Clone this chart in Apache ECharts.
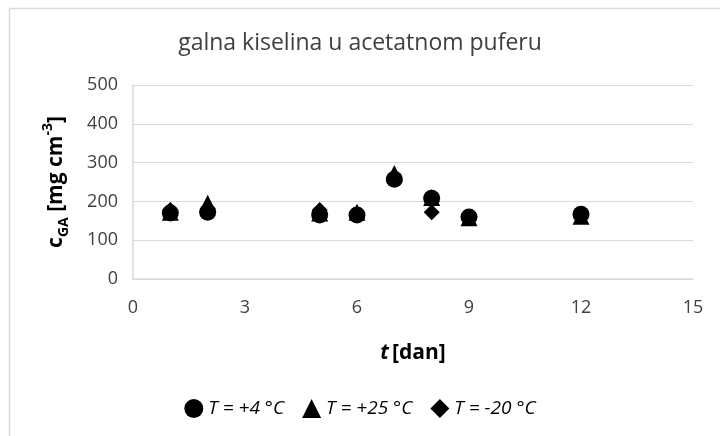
<!DOCTYPE html>
<html><head><meta charset="utf-8">
<script src="https://cdn.jsdelivr.net/npm/echarts@6/dist/echarts.min.js"></script>
<style>html,body{margin:0;padding:0;background:#fff}#c{width:720px;height:436px}</style>
</head><body><div id="c"></div>
<script>
const title = 'galna kiselina u acetatnom puferu';
const days = [1, 2, 5, 6, 7, 8, 9, 12];
const seriesNames = ['T = +4 °C', 'T = +25 °C', 'T = -20 °C'];
const cT4 = [170, 172, 165, 165, 257, 208, 160, 167];
const cT25 = [172, 195, 170, 172, 272, 210, 158, 162];
const cTm20 = [178, 182, 178, 168, 262, 172, 160, 165];
const xTicks = [0, 3, 6, 9, 12, 15];
const yTicks = [0, 100, 200, 300, 400, 500];

const FONT = '"Open Sans", "Noto Sans", sans-serif';
const chart = echarts.init(document.getElementById('c'));
const pairs = v => days.map((d, i) => [d, v[i]]);
const symbols = ['circle', 'triangle', 'diamond'];
const sizes = [17, 17, 16];
const zs = [3, 2, 4];
const vals = [cT4, cT25, cTm20];

chart.setOption({
  animation: false,
  textStyle: { fontFamily: FONT },
  title: { text: title, left: 'center', top: 27,
    textStyle: { fontFamily: FONT, fontSize: 23, fontWeight: 'normal', color: '#404040' } },
  graphic: [
    { type: 'line', shape: { x1: 9.5, y1: 8.5, x2: 720, y2: 8.5 }, style: { stroke: '#d9d9d9', lineWidth: 1.5 } },
    { type: 'line', shape: { x1: 9.5, y1: 8.5, x2: 9.5, y2: 436 }, style: { stroke: '#d9d9d9', lineWidth: 1.5 } }
  ],
  legend: {
    bottom: 13, left: 'center', itemWidth: 19, itemHeight: 19, itemGap: 18,
    data: seriesNames.map((n, i) => ({ name: n, icon: symbols[i] })),
    textStyle: { fontFamily: FONT, fontSize: 19, fontStyle: 'italic', color: '#000' }
  },
  grid: { left: 133, right: 27, top: 85, bottom: 157 },
  xAxis: {
    type: 'value', min: 0, max: 15, interval: 3,
    name: '{i|t} {b|[dan]}', nameLocation: 'middle', nameGap: 64,
    nameTextStyle: { rich: {
      i: { fontFamily: FONT, fontSize: 21, fontWeight: 'bold', fontStyle: 'italic', color: '#000' },
      b: { fontFamily: FONT, fontSize: 21, fontWeight: 'bold', color: '#000' } } },
    axisLine: { lineStyle: { color: '#d9d9d9', width: 1.5 } },
    axisTick: { show: false },
    splitLine: { show: false },
    axisLabel: { fontSize: 18, color: '#404040', margin: 20, fontFamily: FONT }
  },
  yAxis: {
    type: 'value', min: 0, max: 500, interval: 100,
    name: '{b|c}{sub|GA}{b| [mg cm}{sup|-3}{b|]}', nameLocation: 'middle', nameGap: 62,
    nameTextStyle: { rich: {
      b: { fontFamily: FONT, fontSize: 21, fontWeight: 'bold', color: '#000', verticalAlign: 'middle', lineHeight: 30 },
      sub: { fontFamily: FONT, fontSize: 14, fontWeight: 'bold', color: '#000', verticalAlign: 'bottom', lineHeight: 20 },
      sup: { fontFamily: FONT, fontSize: 14, fontWeight: 'bold', color: '#000', verticalAlign: 'top', lineHeight: 16 } } },
    axisLine: { show: true, lineStyle: { color: '#d9d9d9', width: 1.5 } },
    axisTick: { show: false },
    splitLine: { lineStyle: { color: '#d9d9d9', width: 1 } },
    axisLabel: { fontSize: 18, color: '#404040', margin: 15, fontFamily: FONT }
  },
  series: seriesNames.map((n, i) => ({
    name: n, type: 'scatter', symbol: symbols[i], symbolSize: sizes[i], z: zs[i],
    itemStyle: { color: '#000', opacity: 1 }, data: pairs(vals[i])
  }))
});
</script></body></html>
